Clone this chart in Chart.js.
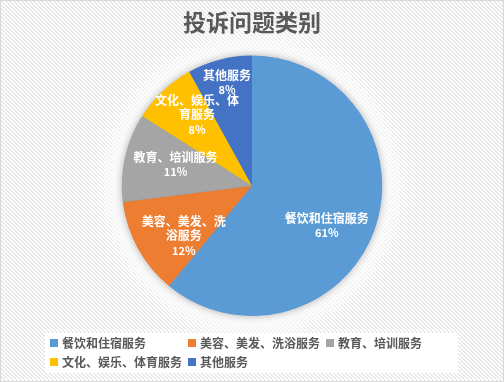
<!DOCTYPE html>
<html>
<head>
<meta charset="utf-8">
<script src="https://cdn.jsdelivr.net/npm/chart.js@4.4.1/dist/chart.umd.min.js"></script>
<style>
  html, body { margin: 0; padding: 0; background: #fff; }
</style>
</head>
<body>
<canvas id="chart" width="504" height="382"></canvas>
<script>
const chartTitle = '投诉问题类别';
const categories = ['餐饮和住宿服务', '美容、美发、洗浴服务', '教育、培训服务', '文化、娱乐、体育服务', '其他服务'];
const shares = [61, 12, 11, 8, 8];
const sliceColors = ['#5B9BD5', '#ED7D31', '#A5A5A5', '#FFC000', '#4472C4'];

const fontFamily = "'Noto Sans CJK SC', 'Noto Sans', sans-serif";

// diagonal hatch like the office chart style
function makeStripes(ctx) {
    const c = document.createElement('canvas');
    c.width = 4; c.height = 4;
    const p = c.getContext('2d');
    p.fillStyle = '#ffffff';
    p.fillRect(0, 0, 4, 4);
    p.fillStyle = '#e9e9e9';
    for (let y = 0; y < 4; y++) {
        for (let x = 0; x < 4; x++) {
            const d = (x - y + 8) % 4;
            if (d === 0 || d === 1) p.fillRect(x, y, 1, 1);
        }
    }
    return ctx.createPattern(c, 'repeat');
}

// wrap CJK text by width
function wrapText(ctx, text, maxWidth) {
    const lines = [];
    let line = '';
    for (const ch of text) {
        if (line && ctx.measureText(line + ch).width > maxWidth) {
            lines.push(line);
            line = ch;
        } else {
            line += ch;
        }
    }
    if (line) lines.push(line);
    return lines;
}

const backgroundPlugin = {
    id: 'officeBackground',
    beforeDraw(chart) {
        const ctx = chart.ctx;
        const w = chart.width, h = chart.height;
        const arc = chart.getDatasetMeta(0).data[0];
        ctx.save();
        ctx.fillStyle = makeStripes(ctx);
        ctx.fillRect(0, 0, w, h);
        if (arc) {
            const r = arc.outerRadius;
            const g = ctx.createRadialGradient(arc.x, arc.y, r * 0.9, arc.x, arc.y, r + 32);
            g.addColorStop(0, 'rgba(255,255,255,1)');
            g.addColorStop(1, 'rgba(255,255,255,0)');
            ctx.fillStyle = g;
            ctx.fillRect(0, 0, w, h);
        }
        ctx.strokeStyle = '#d9d9d9';
        ctx.lineWidth = 1;
        ctx.strokeRect(0.5, 0.5, w - 1, h - 1);
        ctx.restore();
    },
    beforeDatasetsDraw(chart) {
        // soft shadow under the whole pie
        const ctx = chart.ctx;
        const arc = chart.getDatasetMeta(0).data[0];
        if (!arc) return;
        ctx.save();
        ctx.shadowColor = 'rgba(0,0,0,0.35)';
        ctx.shadowBlur = 9;
        ctx.beginPath();
        ctx.arc(arc.x, arc.y, arc.outerRadius - 0.5, 0, Math.PI * 2);
        ctx.fillStyle = sliceColors[0];
        ctx.fill();
        ctx.restore();
    }
};

const sliceLabelPlugin = {
    id: 'sliceLabels',
    afterDatasetsDraw(chart, args, opts) {
        const ctx = chart.ctx;
        const meta = chart.getDatasetMeta(0);
        const values = chart.data.datasets[0].data;
        const total = values.reduce((a, b) => a + b, 0);
        ctx.save();
        ctx.fillStyle = opts.color;
        ctx.textAlign = 'center';
        ctx.textBaseline = 'middle';
        meta.data.forEach((arc, i) => {
            const place = opts.placement[i];
            const a = (arc.startAngle + arc.endAngle) / 2 + place.turn * Math.PI / 180;
            const r = arc.outerRadius * place.radius;
            const cx = arc.x + Math.cos(a) * r;
            const cy = arc.y + Math.sin(a) * r;
            ctx.font = 'bold 12px ' + fontFamily;
            const lines = wrapText(ctx, chart.data.labels[i], opts.maxWidth);
            lines.push(Math.round(values[i] / total * 100) + '%');
            const top = cy - (lines.length - 1) * opts.lineHeight / 2;
            lines.forEach((t, k) => {
                ctx.font = (k === lines.length - 1 ? 'bold 11px ' : 'bold 12px ') + fontFamily;
                ctx.fillText(t, cx, top + k * opts.lineHeight);
            });
        });
        ctx.restore();
    }
};

// office style legend: fixed grid of columns in a white box
const gridLegendPlugin = {
    id: 'gridLegend',
    afterDraw(chart, args, opts) {
        const ctx = chart.ctx;
        const colors = chart.data.datasets[0].backgroundColor;
        ctx.save();
        ctx.fillStyle = '#ffffff';
        ctx.fillRect(opts.box.x, opts.box.y, opts.box.w, opts.box.h);
        ctx.font = 'bold 12px ' + fontFamily;
        ctx.textBaseline = 'middle';
        ctx.textAlign = 'left';
        chart.data.labels.forEach((label, i) => {
            const col = i % opts.columns;
            const row = Math.floor(i / opts.columns);
            const x = opts.box.x + opts.inset + col * opts.colWidth;
            const y = opts.box.y + opts.firstRow + row * opts.rowHeight;
            ctx.fillStyle = colors[i];
            ctx.fillRect(x, y - 4, 8, 8);
            ctx.fillStyle = '#595959';
            ctx.fillText(label, x + 12, y);
        });
        ctx.restore();
    }
};

const chart = new Chart(document.getElementById('chart'), {
    type: 'pie',
    data: {
        labels: categories,
        datasets: [{
            data: shares,
            backgroundColor: sliceColors,
            borderWidth: 0
        }]
    },
    options: {
        responsive: false,
        animation: false,
        devicePixelRatio: 1,
        layout: {
            padding: { top: 0, bottom: 66, left: 0, right: 0 }
        },
        plugins: {
            legend: { display: false },
            tooltip: { enabled: false },
            title: {
                display: true,
                text: chartTitle,
                color: '#595959',
                font: { family: fontFamily, size: 23, weight: 'bold' },
                padding: { top: 8, bottom: 20 }
            },
            sliceLabels: {
                color: '#ffffff',
                maxWidth: 86,
                lineHeight: 14.5,
                placement: [
                    { radius: 0.65, turn: 8 },
                    { radius: 0.65, turn: -7.5 },
                    { radius: 0.61, turn: 3 },
                    { radius: 0.69, turn: 5.4 },
                    { radius: 0.815, turn: 0.8 }
                ]
            },
            gridLegend: {
                box: { x: 45, y: 333, w: 413, h: 40 },
                inset: 5,
                columns: 3,
                colWidth: 138,
                firstRow: 10,
                rowHeight: 19
            }
        }
    },
    plugins: [backgroundPlugin, sliceLabelPlugin, gridLegendPlugin]
});
</script>
</body>
</html>
